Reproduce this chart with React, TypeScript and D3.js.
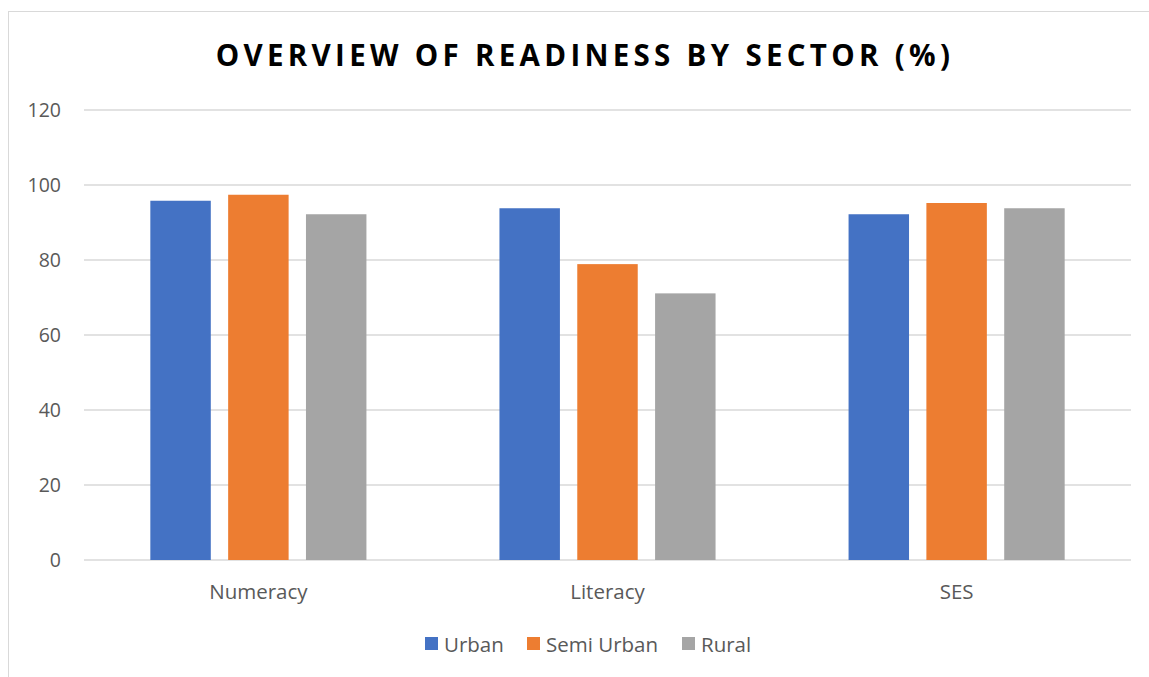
import React, { useEffect, useRef } from 'react';
import * as d3 from 'd3';

const categories = ['Numeracy', 'Literacy', 'SES'];
const seriesNames = ['Urban', 'Semi Urban', 'Rural'];
const urban = [95.8, 93.8, 92.2];
const semiUrban = [97.4, 78.9, 95.2];
const rural = [92.2, 71.1, 93.8];
const yTicks = [0, 20, 40, 60, 80, 100, 120];
const colors = ['#4472c4', '#ed7d31', '#a5a5a5'];

const App = () => {
	const ref = useRef<SVGSVGElement>(null);
	useEffect(() => drawChart(), []);

	function drawChart() {
		const width = 1149;
		const height = 677;
		const svg = d3.select(ref.current);
		svg.selectAll('*').remove();
		const font = "'Open Sans', sans-serif";
		const values = [urban, semiUrban, rural];

		// chart area border (cropped at right/bottom)
		svg.append('rect')
			.attr('x', 8.5).attr('y', 11.5)
			.attr('width', width + 20).attr('height', height + 20)
			.attr('fill', 'white').attr('stroke', '#d9d9d9');

		const left = 84, right = 1131, top = 110, bottom = 560;
		const y = d3.scaleLinear().domain([0, 120]).range([bottom, top]);
		const x0 = d3.scaleBand().domain(categories).range([left, right])
			.paddingInner(0.381).paddingOuter(0.19);
		const x1 = d3.scaleBand().domain(seriesNames).range([0, x0.bandwidth()])
			.paddingInner(0.223).paddingOuter(0);

		svg.append('text')
			.attr('x', 585).attr('y', 66)
			.attr('text-anchor', 'middle')
			.attr('font-family', font).attr('font-weight', 700)
			.attr('font-size', 29.5).attr('letter-spacing', 4.3)
			.attr('fill', '#000')
			.text('OVERVIEW OF READINESS BY SECTOR (%)');

		const grid = svg.append('g');
		grid.selectAll('line').data(yTicks).enter().append('line')
			.attr('x1', left).attr('x2', right)
			.attr('y1', (d) => y(d)).attr('y2', (d) => y(d))
			.attr('stroke', '#d9d9d9').attr('stroke-width', 1.5);
		grid.selectAll('text').data(yTicks).enter().append('text')
			.attr('x', 61).attr('y', (d) => y(d) + 7)
			.attr('text-anchor', 'end')
			.attr('font-family', font).attr('font-size', 19.5)
			.attr('fill', '#595959')
			.text((d) => d);

		seriesNames.forEach((s, si) => {
			svg.append('g').selectAll('rect').data(categories).enter().append('rect')
				.attr('x', (c) => x0(c)! + x1(s)!)
				.attr('y', (c, i) => y(values[si][i]))
				.attr('width', x1.bandwidth())
				.attr('height', (c, i) => bottom - y(values[si][i]))
				.attr('fill', colors[si]);
		});

		svg.append('g').selectAll('text').data(categories).enter().append('text')
			.attr('x', (c) => x0(c)! + x0.bandwidth() / 2)
			.attr('y', 599)
			.attr('text-anchor', 'middle')
			.attr('font-family', font).attr('font-size', 20.5)
			.attr('fill', '#595959')
			.text((c) => c);

		const legendX = [425, 527, 682];
		const legend = svg.append('g');
		seriesNames.forEach((s, i) => {
			legend.append('rect')
				.attr('x', legendX[i]).attr('y', 637)
				.attr('width', 13).attr('height', 13)
				.attr('fill', colors[i]);
			legend.append('text')
				.attr('x', legendX[i] + 19).attr('y', 652)
				.attr('font-family', font).attr('font-size', 20.5)
				.attr('fill', '#595959')
				.text(s);
		});
	}

	return (
		<svg ref={ref} width={1149} height={677}
			style={{ position: 'absolute', left: 0, top: 0, background: 'white' }} />
	);
};

export default App;
